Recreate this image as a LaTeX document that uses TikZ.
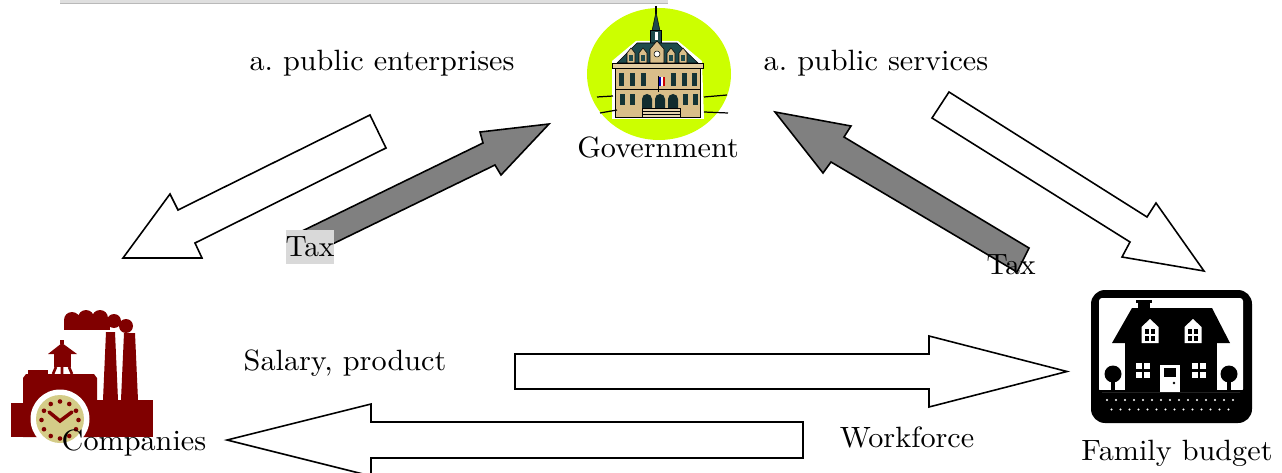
\documentclass[tikz,border=0pt]{standalone}
\usepackage{fontspec}
\setmainfont{lmroman10-regular}[Extension=.otf,FakeStretch=1.03]
\newfontfamily\taxfont{lmroman10-regular}[Extension=.otf]
\usetikzlibrary{calc}
\definecolor{govgreen}{HTML}{CCFF00}
\definecolor{roofteal}{HTML}{1E4A4C}
\definecolor{facade}{HTML}{D9BE8A}
\definecolor{factred}{HTML}{800000}
\definecolor{clockface}{HTML}{D4CC88}
\definecolor{taxgray}{HTML}{808080}
\definecolor{taxbox}{HTML}{D9D9D9}
\begin{document}
\begin{tikzpicture}[x=0.02cm,y=-0.02cm,
    lbl/.style={font=\fontsize{16.7}{20}\selectfont,inner sep=0pt,anchor=base},
    outflow/.style={draw=black,fill=white,line width=0.9pt,line join=miter},
    taxflow/.style={draw=black,fill=taxgray,line width=0.9pt,line join=miter}]
  \useasboundingbox (0,0) rectangle (1282,473);
  % top rule
  \fill[gray!25] (60,0) rectangle (668,3.5);
  \draw[gray!55,line width=0.4pt] (60,3.5) -- (668,3.5);

  % government emblem
  \fill[govgreen] (659,74) ellipse [x radius=72, y radius=66];
  \begin{scope}[line width=0.3pt]
    \fill[white] (612,61) -- (636,41) -- (678,41) -- (702,61) -- (704,119) -- (612,119) -- cycle;
    \draw[black,line width=0.6pt] (656,6) -- (656,14);
    \filldraw[fill=roofteal,draw=black] (652,31) -- (656,12) -- (660,31) -- cycle;
    \filldraw[fill=roofteal,draw=black] (650.5,30) rectangle (661.5,44);
    \fill[white] (654.5,32) rectangle (657.5,40);
    \filldraw[fill=roofteal,draw=black] (617,63) -- (637,43) -- (677,43) -- (698,63) -- cycle;
    \foreach \dx in {631,643,671,683} {
      \filldraw[fill=facade,draw=black] (\dx-4,63) -- (\dx-4,53) -- (\dx,48) -- (\dx+4,53) -- (\dx+4,63) -- cycle;
      \fill[roofteal] (\dx-1.8,55) rectangle (\dx+1.8,61);
    }
    \filldraw[fill=facade,draw=black] (650,63) -- (650,49) -- (657,41) -- (664,49) -- (664,63) -- cycle;
    \filldraw[fill=white,draw=black] (657,54) circle [radius=3];
    \filldraw[fill=facade,draw=black] (615,63) rectangle (700,117);
    \filldraw[fill=facade!80!white,draw=black] (612,63) rectangle (703,68);
    \foreach \wx in {621,632,643,673,684,694}
      \fill[roofteal!70!black] (\wx-2.5,73) rectangle (\wx+2.5,86);
    \foreach \wx in {622,632,685,695}
      \fill[roofteal!70!black] (\wx-2.5,94) rectangle (\wx+2.5,105);
    \draw[black] (615,89) -- (700,89);
    \foreach \ax in {647,660,673}
      \fill[roofteal!60!black] (\ax-5,110) -- (\ax-5,99) arc[start angle=180,end angle=360,radius=5] -- (\ax+5,110) -- cycle;
    \filldraw[fill=facade!70!white,draw=black] (642,108) rectangle (680,117);
    \draw[black] (642,111) -- (680,111) (642,114) -- (680,114);
    \draw[black,line width=0.4pt] (658,76) -- (658,92);
    \fill[blue!70!black] (659,77) rectangle (661,86);
    \fill[white] (661,77) rectangle (663,86);
    \fill[red!80!black] (663,77) rectangle (665,86);
    \draw[black,line width=0.7pt] (597,97) -- (613,96) (600,113) -- (617,110)
      (704,97) -- (727,95) (704,112) -- (728,113);
  \end{scope}

  % factory
  \begin{scope}[fill=factred]
    \fill (72,320) circle [radius=8] (86,318) circle [radius=8]
          (100,318) circle [radius=8] (114,321) circle [radius=7]
          (126,326) circle [radius=7];
    \fill (64,321) rectangle (110,330);
    \fill (106,332) -- (115,332) -- (118,400) -- (103,400) -- cycle;
    \fill (124,333) -- (135,333) -- (138,400) -- (121,400) -- cycle;
    \fill (93,400) rectangle (153,437);
    \fill (23,378) -- (26,374) -- (94,374) -- (97,378) -- (97,437) -- (23,437) -- cycle;
    \fill (28,370) rectangle (48,374);
    \fill (11,403) rectangle (30,437);
    \fill (48,354) -- (62,343) -- (77,354) -- cycle;
    \fill (60,340) rectangle (64,344);
    \fill (54,354) rectangle (71,367);
    \draw[factred,line width=1.5pt] (56,367) -- (53,374) (69,367) -- (72,374) (62,367) -- (62,374);
  \end{scope}
  \fill[white] (60,419) circle [radius=29.5];
  \fill[clockface] (60,419) circle [radius=24];
  \foreach \ang in {0,30,...,330}
    \fill[factred] ($(60,420)+(\ang:18.5)$) circle [radius=2.3];
  \draw[factred,line width=2pt,line cap=round] (49,412) -- (60,421) -- (72,412);

  % family house
  \fill[black,rounded corners=0.28cm] (1091,290) rectangle (1252,423);
  \fill[white,rounded corners=0.06cm] (1099,298) rectangle (1243,392);
  \fill[black] (1099,390) rectangle (1243,392);
  \fill[black] (1112,343) -- (1132,308) -- (1212,308) -- (1230,343) -- cycle;
  \fill[black] (1138,301) rectangle (1150,309);
  \fill[black] (1136,300) rectangle (1152,303);
  \fill[black] (1125,343) rectangle (1217,392);
  \foreach \hx in {1150,1193} {
    \fill[white] (\hx-8.5,343) -- (\hx-8.5,327) -- (\hx,319) -- (\hx+8.5,327) -- (\hx+8.5,343) -- cycle;
    \fill[black] (\hx-5,329) rectangle (\hx+5,341);
    \draw[white,line width=0.7pt] (\hx,329) -- (\hx,341) (\hx-5,335) -- (\hx+5,335);
  }
  \foreach \wx in {1143,1199} {
    \fill[white] (\wx-7,363) rectangle (\wx+7,378);
    \draw[black,line width=1.2pt] (\wx,363) -- (\wx,378) (\wx-7,370.5) -- (\wx+7,370.5);
  }
  \fill[white] (1160,365) rectangle (1180,392);
  \fill[black] (1164,368) rectangle (1176,377);
  \fill[black] (1174,383) circle [radius=1.4];
  \foreach \tx in {1113,1229} {
    \fill[black] (\tx,374) circle [radius=8.5];
    \fill[black] (\tx-1.6,378) rectangle (\tx+1.6,392);
  }
  \foreach \gx in {0,...,14}
    \fill[white] (1107+9*\gx,400) circle [radius=1.1];
  \foreach \gx in {0,...,13}
    \fill[white] (1111.5+9*\gx,409.5) circle [radius=1.1];

  % flows
  \draw[outflow] (370,115) -- (386,148) -- (195,243) -- (202,258) -- (123,258) -- (170,194) -- (178,210) -- cycle;
  \draw[taxflow] (296,234) -- (483,143) -- (480,132) -- (549,124) -- (501,175) -- (495,165) -- (312,254) -- cycle;
  \draw[taxflow] (775,112) -- (851,126) -- (844,137) -- (1029,248) -- (1017,272) -- (831,162) -- (823,173) -- cycle;
  \draw[outflow] (949,92) -- (1147,217) -- (1156,203) -- (1204,271) -- (1122,257) -- (1130,242) -- (932,118) -- cycle;
  \draw[outflow] (515,354) -- (929,354) -- (929,336) -- (1067,371.5) -- (929,407) -- (929,389) -- (515,389) -- cycle;
  \draw[outflow] (803,422) -- (371,422) -- (371,404) -- (227,440) -- (371,476) -- (371,458) -- (803,458) -- cycle;

  % labels
  \node[lbl] (pubent) at (382,71) {a.\ public enterprises};
  \node[lbl] (gov) at (658,157) {Government};
  \node[lbl] (pubserv) at (876,71) {a.\ public services};
  \node[fill=taxbox,inner sep=0pt,minimum width=0.96cm,minimum height=0.68cm,
        font=\taxfont\fontsize{16.7}{20}\selectfont] (taxcomp) at (310,247) {Tax};
  \node[lbl,font=\taxfont\fontsize{16.7}{20}\selectfont] (taxfam) at (1011,275) {Tax};
  \node[lbl] (salary) at (345,370) {Salary, product};
  \node[lbl] (workforce) at (907,447) {Workforce};
  \node[lbl] (comp) at (134,450) {Companies};
  \node[lbl] (fam) at (1177,460) {Family budget};
\end{tikzpicture}
\end{document}
